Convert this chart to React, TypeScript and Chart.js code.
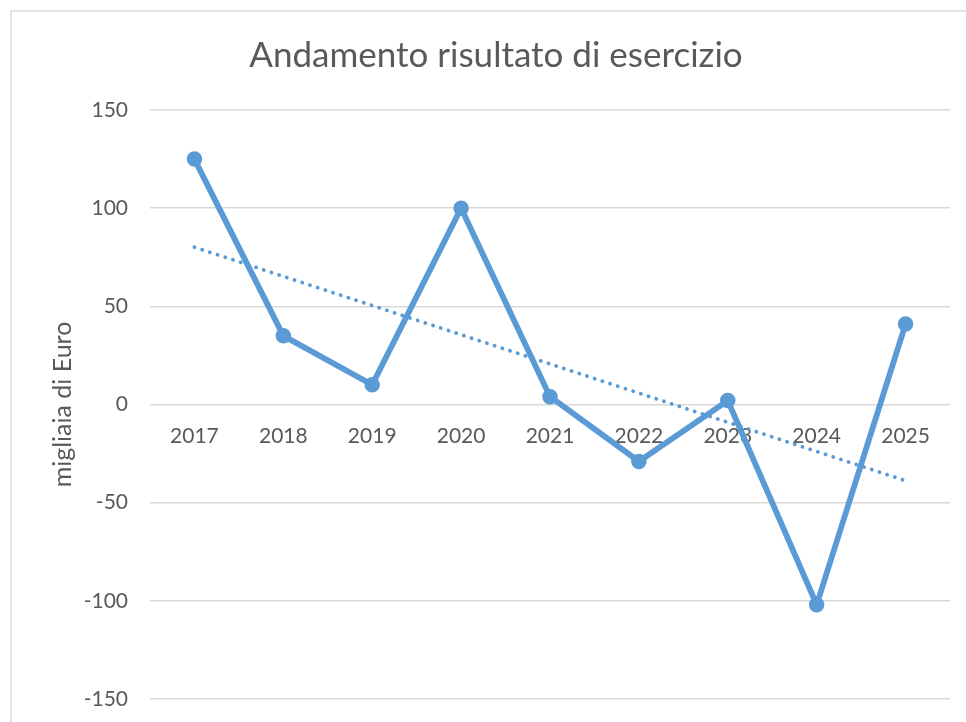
import { useEffect, useRef } from "react";
import { Chart, registerables } from "chart.js";

Chart.register(...registerables);

const years = ["2017", "2018", "2019", "2020", "2021", "2022", "2023", "2024", "2025"];
const results = [125, 35, 10, 100, 4, -29, 2, -102, 41];
const yTicks = [-150, -100, -50, 0, 50, 100, 150];
const chartTitle = "Andamento risultato di esercizio";
const yAxisTitle = "migliaia di Euro";

const BLUE = "#5B9BD5";
const TEXT = "#595959";
const GRID = "#d9d9d9";
const FONT = "Lato";

// Linear (least squares) trendline of the series, as Excel's linear trendline
function linearTrend(values: number[]): number[] {
  const n = values.length;
  const mx = (n - 1) / 2;
  const my = values.reduce((a, b) => a + b, 0) / n;
  let sxy = 0;
  let sxx = 0;
  values.forEach((v, i) => {
    sxy += (i - mx) * (v - my);
    sxx += (i - mx) * (i - mx);
  });
  const slope = sxy / sxx;
  return values.map((_, i) => my + slope * (i - mx));
}

export default function App() {
  const ref = useRef<HTMLCanvasElement | null>(null);

  useEffect(() => {
    if (!ref.current) return;
    const chart = new Chart(ref.current, {
      type: "line",
      data: {
        labels: years,
        datasets: [
          {
            label: "Trend",
            data: linearTrend(results),
            borderColor: BLUE,
            borderWidth: 3.8,
            borderDash: [0.1, 8],
            borderCapStyle: "round",
            pointRadius: 0,
            fill: false,
            tension: 0,
            order: 0,
          },
          {
            label: "Risultato",
            data: results,
            borderColor: BLUE,
            backgroundColor: BLUE,
            borderWidth: 5.8,
            pointRadius: 7,
            pointBorderWidth: 1.5,
            pointBorderColor: BLUE,
            pointBackgroundColor: BLUE,
            fill: false,
            tension: 0,
            order: 1,
          },
        ],
      },
      options: {
        responsive: false,
        animation: false,
        layout: { padding: { left: 42, right: 16, top: 0, bottom: 23 } },
        plugins: {
          legend: { display: false },
          tooltip: { enabled: false },
          title: {
            display: true,
            text: chartTitle,
            color: TEXT,
            font: { family: FONT, size: 35, weight: "normal" },
            padding: { top: 35, bottom: 33 },
          },
        },
        scales: {
          x: {
            type: "category",
            position: { y: 0 },
            offset: true,
            grid: { display: false },
            border: { display: false },
            ticks: {
              color: TEXT,
              font: { family: FONT, size: 21 },
              padding: 11,
              maxRotation: 0,
            },
            afterFit: (scale: any) => {
              scale.height = 0;
            },
          },
          y: {
            min: yTicks[0],
            max: yTicks[yTicks.length - 1],
            ticks: {
              stepSize: yTicks[1] - yTicks[0],
              color: TEXT,
              font: { family: FONT, size: 21 },
              padding: 0,
            },
            grid: {
              color: GRID,
              lineWidth: 1.5,
              drawTicks: true,
              tickLength: 22,
              tickColor: "rgba(0,0,0,0)",
            },
            border: { display: false },
            title: {
              display: true,
              text: yAxisTitle,
              color: TEXT,
              font: { family: FONT, size: 25, weight: "normal" },
              padding: { top: 6, bottom: 0 },
            },
            afterFit: (scale: any) => {
              scale.width = 108;
            },
          },
        },
      },
    });
    return () => chart.destroy();
  }, []);

  return (
    <div
      style={{
        position: "fixed",
        left: 0,
        top: 0,
        width: 966,
        height: 722,
        overflow: "hidden",
        background: "#ffffff",
      }}
    >
      <div
        style={{
          position: "absolute",
          left: 10,
          top: 10,
          width: 1000,
          height: 1000,
          borderLeft: "2px solid #e2e2e2",
          borderTop: "2px solid #e2e2e2",
        }}
      />
      <canvas
        ref={ref}
        width={966}
        height={722}
        style={{ position: "absolute", left: 0, top: 0 }}
      />
    </div>
  );
}
